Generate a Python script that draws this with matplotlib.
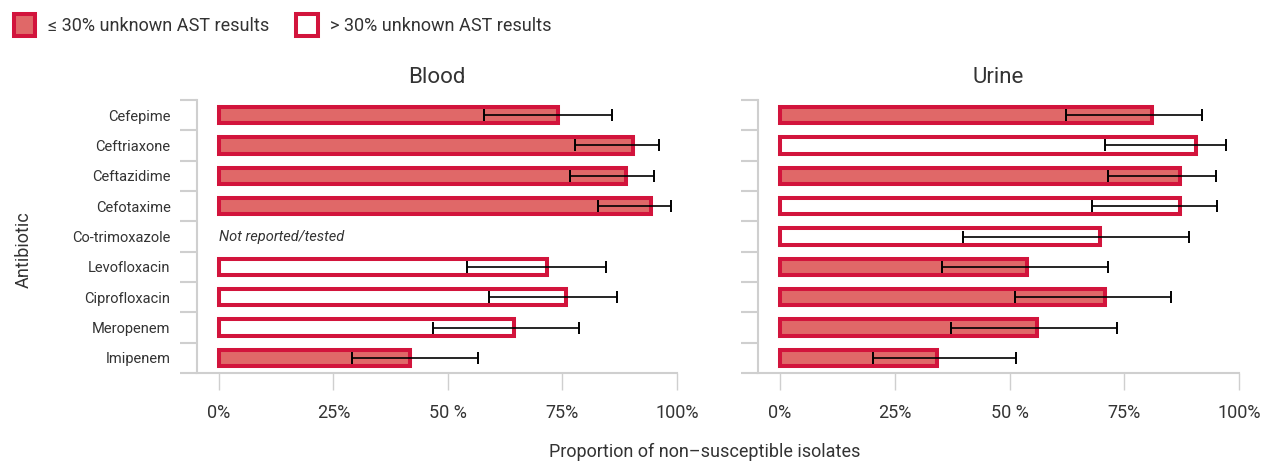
import matplotlib
matplotlib.use('Agg')
import matplotlib.pyplot as plt
from matplotlib.patches import Patch
from matplotlib import font_manager

# ---- data ----
antibiotics = ['Cefepime', 'Ceftriaxone', 'Ceftazidime', 'Cefotaxime', 'Co-trimoxazole',
               'Levofloxacin', 'Ciprofloxacin', 'Meropenem', 'Imipenem']

# Blood (None = not reported/tested)
blood_value = [74.1, 90.4, 88.8, 94.4, None, 71.6, 75.7, 64.5, 41.8]
blood_low = [57.8, 77.8, 76.7, 82.8, None, 54.2, 58.9, 46.8, 29.0]
blood_high = [85.9, 96.0, 94.9, 98.6, None, 84.4, 86.9, 78.7, 56.5]
blood_known = [True, True, True, True, None, False, False, False, True]

# Urine
urine_value = [81.0, 90.7, 87.1, 87.1, 69.7, 53.9, 70.7, 56.0, 34.1]
urine_low = [62.2, 70.8, 71.5, 68.0, 39.8, 35.2, 51.1, 37.2, 20.3]
urine_high = [91.9, 97.2, 94.9, 95.3, 89.2, 71.5, 85.2, 73.4, 51.5]
urine_known = [True, False, True, False, False, True, True, True, True]

x_ticks = [0, 25, 50, 75, 100]
x_ticklabels = ['0%', '25%', '50 %', '75%', '100%']

# ---- style ----
EDGE = '#D2143C'
FILL = '#E06868'
TEXT = '#333333'
AXC = '#CFCFCF'
LW = 2.9

installed = {f.name for f in font_manager.fontManager.ttflist}
narrow = [f for f in ['Liberation Sans Narrow', 'Roboto'] if f in installed] + ['DejaVu Sans']
plt.rcParams['font.family'] = ['Roboto', 'DejaVu Sans']

fig = plt.figure(figsize=(12.65, 4.61), dpi=100)
W, H = 1265, 461
ax_b = fig.add_axes([197 / W, (H - 373) / H, 480 / W, 273 / H])
ax_u = fig.add_axes([758 / W, (H - 373) / H, 481 / W, 273 / H])

n = len(antibiotics)
ypos = list(range(n))


def draw_panel(ax, title, values, lows, highs, known, show_labels):
    for y, v, lo, hi, k in zip(ypos, values, lows, highs, known):
        if v is None:
            ax.text(0, y, 'Not reported/tested', style='italic', va='center', ha='left',
                    fontsize=10.5, color=TEXT, family=narrow)
            continue
        ax.barh(y, v, height=0.53, color=FILL if k else 'white', edgecolor=EDGE,
                linewidth=LW, zorder=2)
        ax.errorbar(v, y, xerr=[[v - lo], [hi - v]], fmt='none', ecolor='black',
                    elinewidth=1.2, capsize=4, capthick=1.4, zorder=3)

    ax.set_xlim(-4.8, 100)
    ax.set_ylim(n - 0.5, -0.5)
    ax.set_title(title, fontsize=16, color=TEXT, pad=12)

    for s in ['top', 'right']:
        ax.spines[s].set_visible(False)
    for s in ['left', 'bottom']:
        ax.spines[s].set_color(AXC)
        ax.spines[s].set_linewidth(1.5)

    ax.set_xticks(x_ticks)
    ax.set_xticklabels(x_ticklabels, family=narrow)
    ax.tick_params(axis='x', length=12, width=1, color=AXC, labelsize=13,
                   labelcolor=TEXT, pad=10)

    # boundary ticks (major) and centered labels (minor)
    ax.set_yticks([i - 0.5 for i in range(n + 1)])
    ax.set_yticklabels([])
    ax.tick_params(axis='y', which='major', length=12, width=1.5, color=AXC)
    ax.set_yticks(ypos, minor=True)
    if show_labels:
        ax.set_yticklabels(antibiotics, minor=True, family=narrow)
    else:
        ax.set_yticklabels([], minor=True)
    ax.tick_params(axis='y', which='minor', length=0, pad=19, labelsize=10.5,
                   labelcolor=TEXT)


draw_panel(ax_b, 'Blood', blood_value, blood_low, blood_high, blood_known, True)
draw_panel(ax_u, 'Urine', urine_value, urine_low, urine_high, urine_known, False)

fig.text(705 / W, 1 - 452 / H, 'Proportion of non\u2013susceptible isolates', ha='center',
         va='center', fontsize=13, color=TEXT, family=narrow)
fig.text(24 / W, 1 - 250 / H, 'Antibiotic', rotation=90, ha='center', va='center',
         fontsize=13, color=TEXT)

handles = [Patch(facecolor=FILL, edgecolor=EDGE, linewidth=LW,
                 label='\u2264 30% unknown AST results'),
           Patch(facecolor='white', edgecolor=EDGE, linewidth=LW,
                 label='> 30% unknown AST results')]
fig.legend(handles=handles, loc='upper left', bbox_to_anchor=(0.0, 1.0), ncol=2,
           frameon=False, fontsize=13, handlelength=1.2, handleheight=1.5,
           handletextpad=0.7, columnspacing=1.5, labelcolor=TEXT, borderaxespad=0.35)

fig.savefig('out.png', dpi=100)
